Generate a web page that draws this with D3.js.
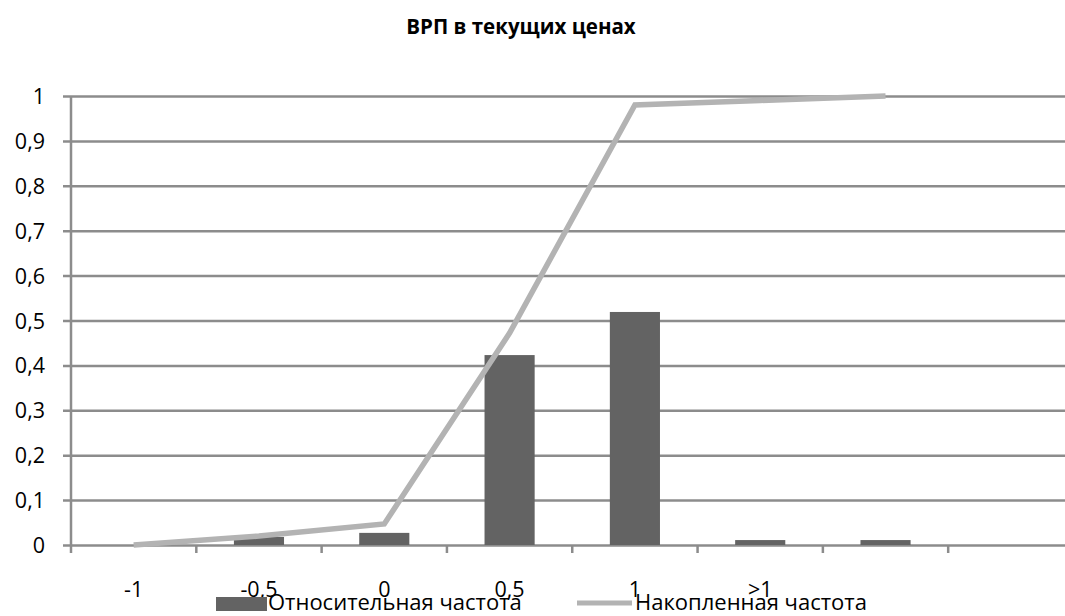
<!DOCTYPE html>
<html lang="ru">
	<head>
		<meta charset="utf-8">
		<title>ВРП в текущих ценах</title>
		<script type="text/javascript" src="https://cdn.jsdelivr.net/npm/d3@7"></script>
		<style type="text/css">
			body { margin: 0; background: #fff; }
			text {
				font-family: "Open Sans", Lato, sans-serif;
				fill: #000;
			}
		</style>
	</head>
	<body>
		<script type="text/javascript">
			var w = 1065;
			var h = 616;

			// categories (last two bands have no label)
			var categories = ["-1", "-0,5", "0", "0,5", "1", ">1", "", ""];
			var relFreq = [0, 0.018, 0.027, 0.423, 0.519, 0.011, 0.011];
			var cumFreq = [0, 0.02, 0.047, 0.472, 0.98, 0.99, 1.0];
			var yTicks = [0, 0.1, 0.2, 0.3, 0.4, 0.5, 0.6, 0.7, 0.8, 0.9, 1];

			var plotLeft = 71, plotRight = 1073.5, plotTop = 96, plotBottom = 545;
			var gridColor = "#8c8c8c";
			var fontSize = "21.5px";

			var xScale = d3.scaleBand()
				.domain(d3.range(categories.length))
				.range([plotLeft, plotRight]);

			var yScale = d3.scaleLinear()
				.domain([0, 1])
				.range([plotBottom, plotTop]);

			var svg = d3.select("body")
				.append("svg")
				.attr("width", w)
				.attr("height", h);

			// title
			svg.append("text")
				.attr("x", 521)
				.attr("y", 34)
				.attr("text-anchor", "middle")
				.style("font-weight", "bold")
				.style("font-size", "20.5px")
				.text("ВРП в текущих ценах");

			// horizontal grid + y labels
			var yAxis = d3.axisLeft(yScale)
				.tickValues(yTicks)
				.tickSize(-(w - plotLeft))
				.tickPadding(26)
				.tickFormat(function(d){ return String(d).replace(".", ","); });

			var gy = svg.append("g")
				.attr("transform", "translate(" + plotLeft + ",0)")
				.call(yAxis);
			gy.select(".domain").remove();
			gy.selectAll(".tick line")
				.attr("x1", -8)
				.attr("stroke", gridColor)
				.attr("stroke-width", 2.5);
			gy.selectAll(".tick text")
				.style("font-size", fontSize)
				.attr("fill", "#000")
				.attr("dy", "0.35em");

			// y axis line
			svg.append("line")
				.attr("x1", plotLeft).attr("x2", plotLeft)
				.attr("y1", plotTop).attr("y2", plotBottom)
				.attr("stroke", gridColor)
				.attr("stroke-width", 2.5);

			// x axis: labels at band centres
			var xAxis = d3.axisBottom(xScale)
				.tickSize(0)
				.tickFormat(function(i){ return categories[i]; });

			var gx = svg.append("g")
				.attr("transform", "translate(0," + plotBottom + ")")
				.call(xAxis);
			gx.select(".domain").remove();
			gx.selectAll(".tick text")
				.style("font-size", fontSize)
				.attr("fill", "#000")
				.attr("dy", 0)
				.attr("y", 52);

			// tick marks at band edges
			svg.selectAll(".xedge")
				.data(d3.range(categories.length))
				.enter()
				.append("line")
				.attr("class", "xedge")
				.attr("x1", function(i){ return xScale(i); })
				.attr("x2", function(i){ return xScale(i); })
				.attr("y1", plotBottom)
				.attr("y2", plotBottom + 8)
				.attr("stroke", gridColor)
				.attr("stroke-width", 2.5);

			// bars
			var barW = xScale.bandwidth() * 0.4;
			svg.selectAll(".bar")
				.data(relFreq)
				.enter()
				.append("rect")
				.attr("class", "bar")
				.attr("x", function(d, i){ return xScale(i) + xScale.bandwidth() / 2 - barW / 2; })
				.attr("y", function(d){ return yScale(d); })
				.attr("width", barW)
				.attr("height", function(d){ return yScale(0) - yScale(d); })
				.attr("fill", "#636363");

			// cumulative line
			var line = d3.line()
				.x(function(d, i){ return xScale(i) + xScale.bandwidth() / 2; })
				.y(function(d){ return yScale(d); });

			svg.append("path")
				.datum(cumFreq)
				.attr("d", line)
				.attr("fill", "none")
				.attr("stroke", "#b3b3b3")
				.attr("stroke-width", 5.5);

			// legend
			var lg = svg.append("g");
			lg.append("rect")
				.attr("x", 216).attr("y", 597)
				.attr("width", 51).attr("height", 14)
				.attr("fill", "#636363");
			lg.append("text")
				.attr("x", 268).attr("y", 610)
				.style("font-size", "22px")
				.text("Относительная частота");
			lg.append("line")
				.attr("x1", 577).attr("x2", 632)
				.attr("y1", 603).attr("y2", 603)
				.attr("stroke", "#b3b3b3")
				.attr("stroke-width", 5);
			lg.append("text")
				.attr("x", 635).attr("y", 610)
				.style("font-size", "22px")
				.text("Накопленная частота");
		</script>
	</body>
</html>
